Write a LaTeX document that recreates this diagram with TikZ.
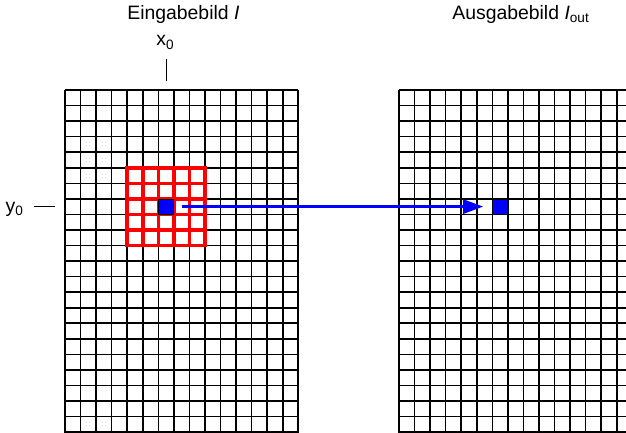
\documentclass[tikz,border=0pt]{standalone}
\usepackage{fontspec}
\setmainfont{Liberation Sans}
\usetikzlibrary{arrows.meta}

\tikzset{
  pixgrid/.style={draw=black, line width=1.6pt},
  window/.style={draw=red, line width=3.5pt, line cap=rect},
  pixel/.style={draw=black, line width=0.8pt, fill=blue, minimum size=15pt, inner sep=0pt},
  mapping/.style={draw=blue, line width=2.8pt, -{Triangle[length=20pt,width=14pt]}},
  title/.style={font=\fontsize{19.4}{23}\selectfont, anchor=base, inner sep=0pt},
  tick/.style={draw=black, line width=1pt},
}

\begin{document}
\begin{tikzpicture}[x=1pt,y=1pt]
\clip (0,0) rectangle (626,432);
% Eingabebild und Ausgabebild, Zelle 15.55
\foreach \gx in {65,399}{
  \foreach \i in {0,...,15}
    \draw[pixgrid] (\gx+\i*15.55,342) -- (\gx+\i*15.55,-16);
  \foreach \j in {0,...,23}
    \draw[pixgrid] (\gx,342-\j*15.55) -- (\gx+233.25,342-\j*15.55);
}
% Fenster 5x5
\foreach \i in {0,...,5}{
  \draw[window] (127.2+\i*15.55,264.25) -- (127.2+\i*15.55,186.5);
  \draw[window] (127.2,264.25-\i*15.55) -- (204.95,264.25-\i*15.55);
}
\node[pixel] (inpix) at (166.1,225.4) {};
\node[pixel] (outpix) at (500.1,225.4) {};
\draw[mapping, shorten <=7.7pt, shorten >=9pt] (inpix.east) -- (outpix.west);
% Beschriftung
\node[title] (intitle) at (183.4,412.7) {Eingabebild \textit{I}};
\node[title] (outtitle) at (520.8,412.7) {Ausgabebild \textit{I}\textsubscript{out}};
\node[title] (xlab) at (165.3,386) {x\textsubscript{0}};
\node[title] (ylab) at (14.5,219.4) {y\textsubscript{0}};
\coordinate (xtop) at (166.1,372.7);
\coordinate (yleft) at (34.3,225.4);
\draw[tick] (xtop) -- ++(0,-21.7);
\draw[tick] (yleft) -- ++(20.7,0);
\end{tikzpicture}
\end{document}
